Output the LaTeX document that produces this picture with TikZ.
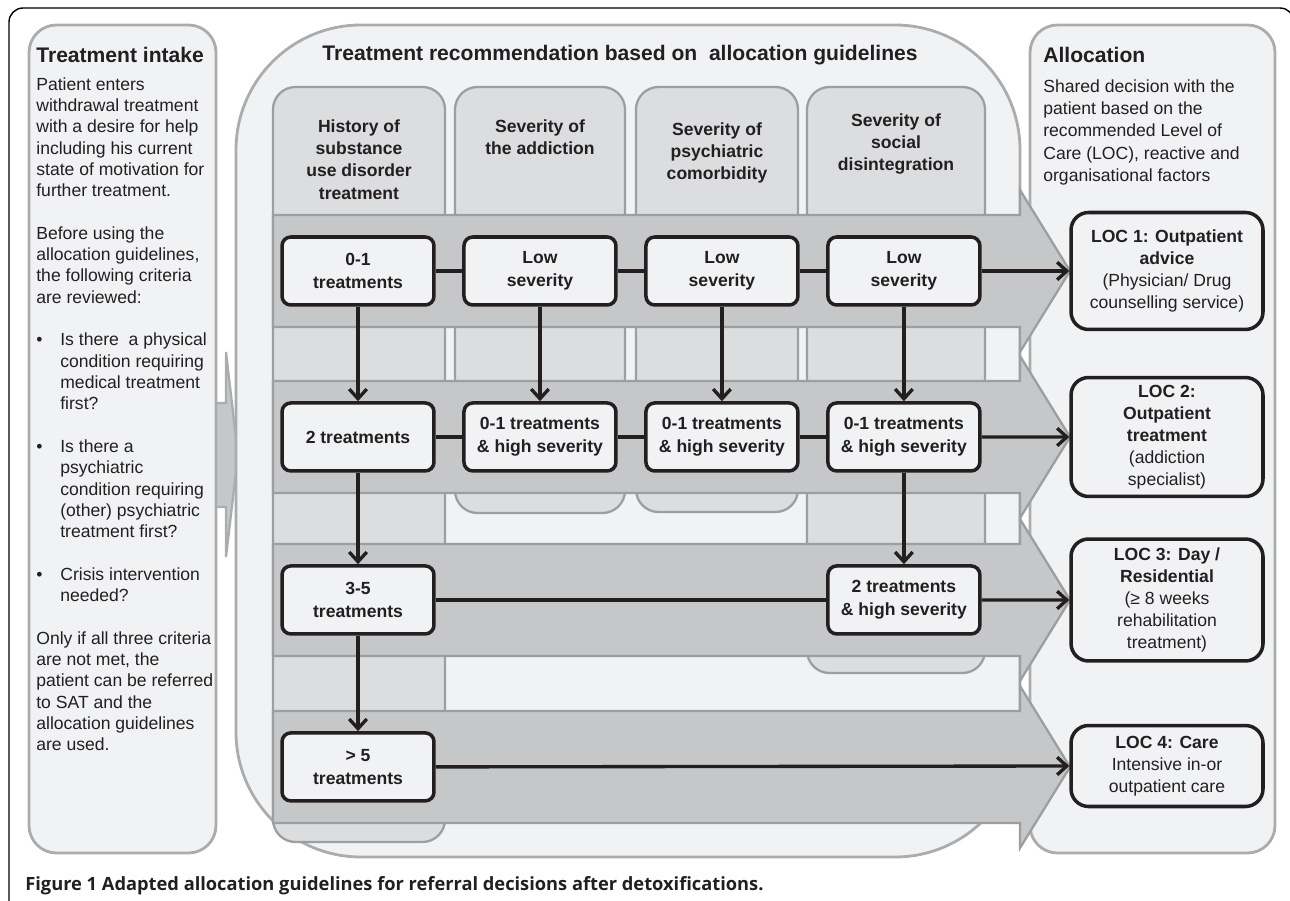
\documentclass[tikz,border=0pt]{standalone}
\usepackage{fontspec}
\setmainfont{Liberation Sans}
\newfontfamily\capfont{Open Sans}
\usetikzlibrary{arrows.meta}

\definecolor{panelfill}{HTML}{F1F2F4}
\definecolor{panelline}{HTML}{ABACAE}
\definecolor{colfill}{HTML}{DCDDDF}
\definecolor{colline}{HTML}{9D9EA0}
\definecolor{bandfill}{HTML}{C6C7C9}
\definecolor{ink}{HTML}{231F20}

\newcommand{\bul}{\makebox[0.48cm][l]{\textbullet}}
\newcommand{\ind}{\makebox[0.48cm]{}}

\begin{document}
\begin{tikzpicture}[x=0.02cm, y=-0.02cm, node distance=3.64cm, >={Straight Barb[length=5.5pt,width=10pt]},
  block/.style={draw=ink, line width=2pt, fill=panelfill, rounded corners=5pt, minimum width=3.04cm, minimum height=1.36cm, align=center, text=ink, font=\fontsize{10}{12.9}\selectfont\bfseries, inner sep=1pt},
  locbox/.style={draw=ink, line width=2pt, fill=panelfill, rounded corners=10pt, minimum width=3.84cm, align=center, text=ink, font=\fontsize{10}{12.5}\selectfont, inner sep=1pt},
  panel/.style={draw=panelline, line width=1.6pt, fill=panelfill},
  column/.style={draw=colline, line width=1.3pt, fill=colfill, rounded corners=0.45cm},
  band/.style={draw=colline, line width=1.3pt, fill=bandfill},
  head/.style={text=ink, font=\fontsize{10}{12.7}\selectfont\bfseries, align=center, anchor=north, inner sep=0pt},
  bodytext/.style={text=ink, align=left, inner sep=0pt, anchor=north west},
  title/.style={text=ink, font=\fontsize{12}{14}\selectfont\bfseries, inner sep=0pt},
  link/.style={draw=ink, line width=1.9pt}]

  \useasboundingbox (0,0) rectangle (1290,901);

  % Frame
  \draw[line width=0.8pt, rounded corners=8pt] (9,905) -- (9,8) -- (1294,8) -- (1294,905);

  % Intake arrow
  \draw[draw=panelline, line width=1.3pt, fill=bandfill] (200,403) -- (226,403) -- (226,352) -- (238,455) -- (226,557) -- (226,507) -- (200,507) -- cycle;

  % Panels
  \draw[panel, rounded corners=0.55cm] (29,25) rectangle (216,853);
  \draw[panel, rounded corners=2.5cm] (236,25) rectangle (1020,857);
  \draw[panel, rounded corners=0.55cm] (1030,25) rectangle (1275,853);

  % Columns
  \draw[column] (273,87) rectangle (445,842);
  \draw[column] (455,87) rectangle (625,513);
  \draw[column] (636,87) rectangle (798,512);
  \draw[column] (807,87) rectangle (985,673);

  % Bands
  \foreach \yc in {271,437,600,767}
    \draw[band] (273,{\yc-56}) -- (1020,{\yc-56}) -- (1020,{\yc-81}) -- (1070,\yc) -- (1020,{\yc+81}) -- (1020,{\yc+56}) -- (273,{\yc+56}) -- cycle;

  % Titles
  \node[title, anchor=base west] (intakeT) at (36,63) {Treatment intake};
  \node[title, anchor=base] (recT) at (620,61) {Treatment recommendation based on~ allocation guidelines};
  \node[title, anchor=base west] (allocT) at (1043,63) {Allocation};

  % Panel texts
  \node[bodytext, font=\fontsize{10}{12.13}\selectfont] (intakeTxt) at (36,77) {Patient enters\\withdrawal treatment\\with a desire for help\\including his current\\state of motivation for\\further treatment.\\[12.13pt]
    Before using the\\allocation guidelines,\\the following criteria\\are reviewed:\\[12.13pt]
    \bul Is there~ a physical\\\ind condition requiring\\\ind medical treatment\\\ind first?\\[12.13pt]
    \bul Is there a\\\ind psychiatric\\\ind condition requiring\\\ind (other) psychiatric\\\ind treatment first?\\[12.13pt]
    \bul Crisis intervention\\\ind needed?\\[12.13pt]
    Only if all three criteria\\are not met, the\\patient can be referred\\to SAT and the\\allocation guidelines\\are used.};
  \node[bodytext, font=\fontsize{10}{12.75}\selectfont] (allocTxt) at (1043,79) {Shared decision with the\\patient based on the\\recommended Level of\\Care (LOC), reactive and\\organisational factors};

  % Column heads
  \node[head] (H1) at (359,119) {History of\\substance\\use disorder\\treatment};
  \node[head] (H2) at (540,119) {Severity of\\the addiction};
  \node[head] (H3) at (717,122) {Severity of\\psychiatric\\comorbidity};
  \node[head] (H4) at (896,113) {Severity of\\social\\disintegration};

  % First row
  \node[block] (A1) at (358,271) {0-1\\treatments};
  \node[block, right of=A1] (A2) {Low\\severity};
  \node[block, right of=A2] (A3) {Low\\severity};
  \node[block, right of=A3] (A4) {Low\\severity};

  % Second row
  \node[block, below of=A1, node distance=3.32cm] (B1) {2 treatments};
  \node[block, right of=B1] (B2) {0-1 treatments\\\& high severity};
  \node[block, right of=B2] (B3) {0-1 treatments\\\& high severity};
  \node[block, right of=B3] (B4) {0-1 treatments\\\& high severity};

  % Third row
  \node[block, below of=B1, node distance=3.26cm] (C1) {3-5\\treatments};
  \node[block, below of=B4, node distance=3.26cm] (C4) {2 treatments\\\& high severity};

  % Fourth row
  \node[block, below of=C1, node distance=3.34cm] (D1) {> 5\\treatments};

  % Levels of care
  \node[locbox, minimum height=2.34cm] (L1) at (1167,271) {\textbf{LOC 1: Outpatient}\\\textbf{advice}\\(Physician/ Drug\\counselling service)};
  \node[locbox, minimum height=2.38cm] (L2) at (1167,437) {\textbf{LOC 2:}\\\textbf{Outpatient}\\\textbf{treatment}\\(addiction\\specialist)};
  \node[locbox, minimum height=2.44cm] (L3) at (1167,600) {\textbf{LOC 3: Day /}\\\textbf{Residential}\\(≥ 8 weeks\\rehabilitation\\treatment)};
  \node[locbox, minimum height=1.62cm] (L4) at (1167,766) {\textbf{LOC 4: Care}\\Intensive in-or\\outpatient care};

  % Row links
  \draw[link] (A1.east) -- (A2.west);
  \draw[link] (A2.east) -- (A3.west);
  \draw[link] (A3.east) -- (A4.west);
  \draw[link, ->] (A4.east) -- (L1.west);
  \draw[link] (B1.east) -- (B2.west);
  \draw[link] (B2.east) -- (B3.west);
  \draw[link] (B3.east) -- (B4.west);
  \draw[link, ->] (B4.east) -- (L2.west);
  \draw[link] (C1.east) -- (C4.west);
  \draw[link, ->] (C4.east) -- (L3.west);
  \draw[link, ->] (D1.east) -- (L4.west);

  % Down arrows
  \draw[link, ->] (A1.south) -- (B1.north);
  \draw[link, ->] (A2.south) -- (B2.north);
  \draw[link, ->] (A3.south) -- (B3.north);
  \draw[link, ->] (A4.south) -- (B4.north);
  \draw[link, ->] (B1.south) -- (C1.north);
  \draw[link, ->] (B4.south) -- (C4.north);
  \draw[link, ->] (C1.south) -- (D1.north);

  % Caption
  \node[anchor=base west, inner sep=0pt, text=ink, font=\capfont\fontsize{10.4}{12}\selectfont\bfseries] (caption) at (25,890) {Figure 1 Adapted allocation guidelines for referral decisions after detoxifications.};

\end{tikzpicture}
\end{document}
